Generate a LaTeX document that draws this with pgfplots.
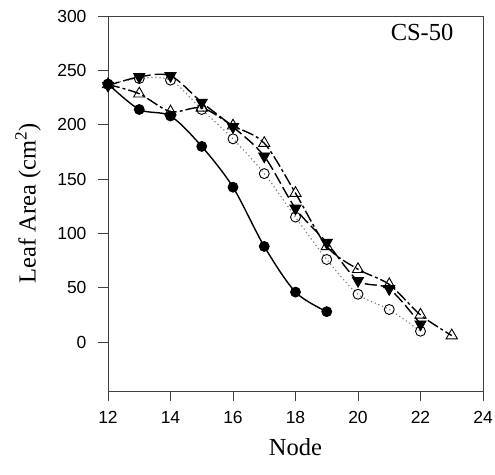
\documentclass[border=0pt]{standalone}
\usepackage{fontspec}
\setmainfont{Liberation Serif}
\newfontfamily\arialfont{Liberation Sans}
\usepackage{pgfplots}
\pgfplotsset{compat=1.18}
\begin{document}
\begin{tikzpicture}
\begin{axis}[
  at={(0,0)}, anchor=south west,
  scale only axis, width=375bp, height=375bp,
  xmin=12, xmax=24, ymin=-45, ymax=300,
  xtick={12,14,...,24}, ytick={0,50,...,300},
  tick align=outside, xtick pos=bottom, ytick pos=left,
  major tick length=10bp,
  axis line style={black!75, line width=0.9bp},
  every tick/.style={black!75, line width=0.9bp},
  /pgf/number format/assume math mode=true,
  tick label style={font=\arialfont\fontsize{17.5bp}{17.5bp}\selectfont},
  xticklabel style={yshift=-7bp},
  yticklabel style={xshift=-8bp},
  xlabel={Node},
  ylabel={Leaf Area (cm\textsuperscript{2})},
  label style={font=\fontsize{24.5bp}{26bp}\selectfont},
  xlabel style={at={(rel axis cs:0.5,0)}, anchor=center, yshift=-56bp},
  ylabel style={at={(rel axis cs:0,0.5)}, anchor=center, yshift=80bp},
  clip=false,
]
% filled circles, solid
\addplot[black, line width=1.4bp, smooth, tension=0.5,
  mark=*, mark size=5bp, mark options={solid, fill=black, line width=0.8bp}]
  coordinates {(12,237.5) (13,214) (14,208) (15,180) (16,142.5) (17,88) (18,46) (19,28)};
% open circles, dotted gray
\addplot[gray, line width=1.2bp, smooth, tension=0.5, dash pattern=on 1.2bp off 2.8bp,
  mark=o, mark size=5bp, mark options={solid, draw=black, fill=white, line width=0.9bp}]
  coordinates {(12,237) (13,242.5) (14,241) (15,214) (16,187) (17,155) (18,115) (19,76) (20,44) (21,30) (22,10)};
% filled down triangles, long dash
\addplot[black, line width=1.4bp, smooth, tension=0.5, dash pattern=on 12bp off 4bp,
  mark=triangle*, mark size=6.5bp, mark options={solid, rotate=180, fill=black, line width=0.8bp}]
  coordinates {(12,236) (13,244) (14,245) (15,220.5) (16,198) (17,171) (18,123) (19,91.5) (20,56.5) (21,49) (22,16.5)};
% open up triangles, dash-dot
\addplot[black, line width=1.4bp, smooth, tension=0.5, dash pattern=on 12bp off 3bp on 3bp off 3bp,
  mark=triangle, mark size=6.5bp, mark options={solid, draw=black, fill=white, line width=0.9bp}]
  coordinates {(12,237) (13,228.5) (14,212) (15,215.5) (16,199) (17,183) (18,137) (19,88) (20,67) (21,53) (22,25) (23,6)};
\node[font=\fontsize{24.5bp}{26bp}\selectfont] at (axis cs:22.05,284.5) {CS-50};
\end{axis}
\pgfresetboundingbox
\path (-108bp,-84bp) rectangle (387bp,391bp);
\end{tikzpicture}
\end{document}
